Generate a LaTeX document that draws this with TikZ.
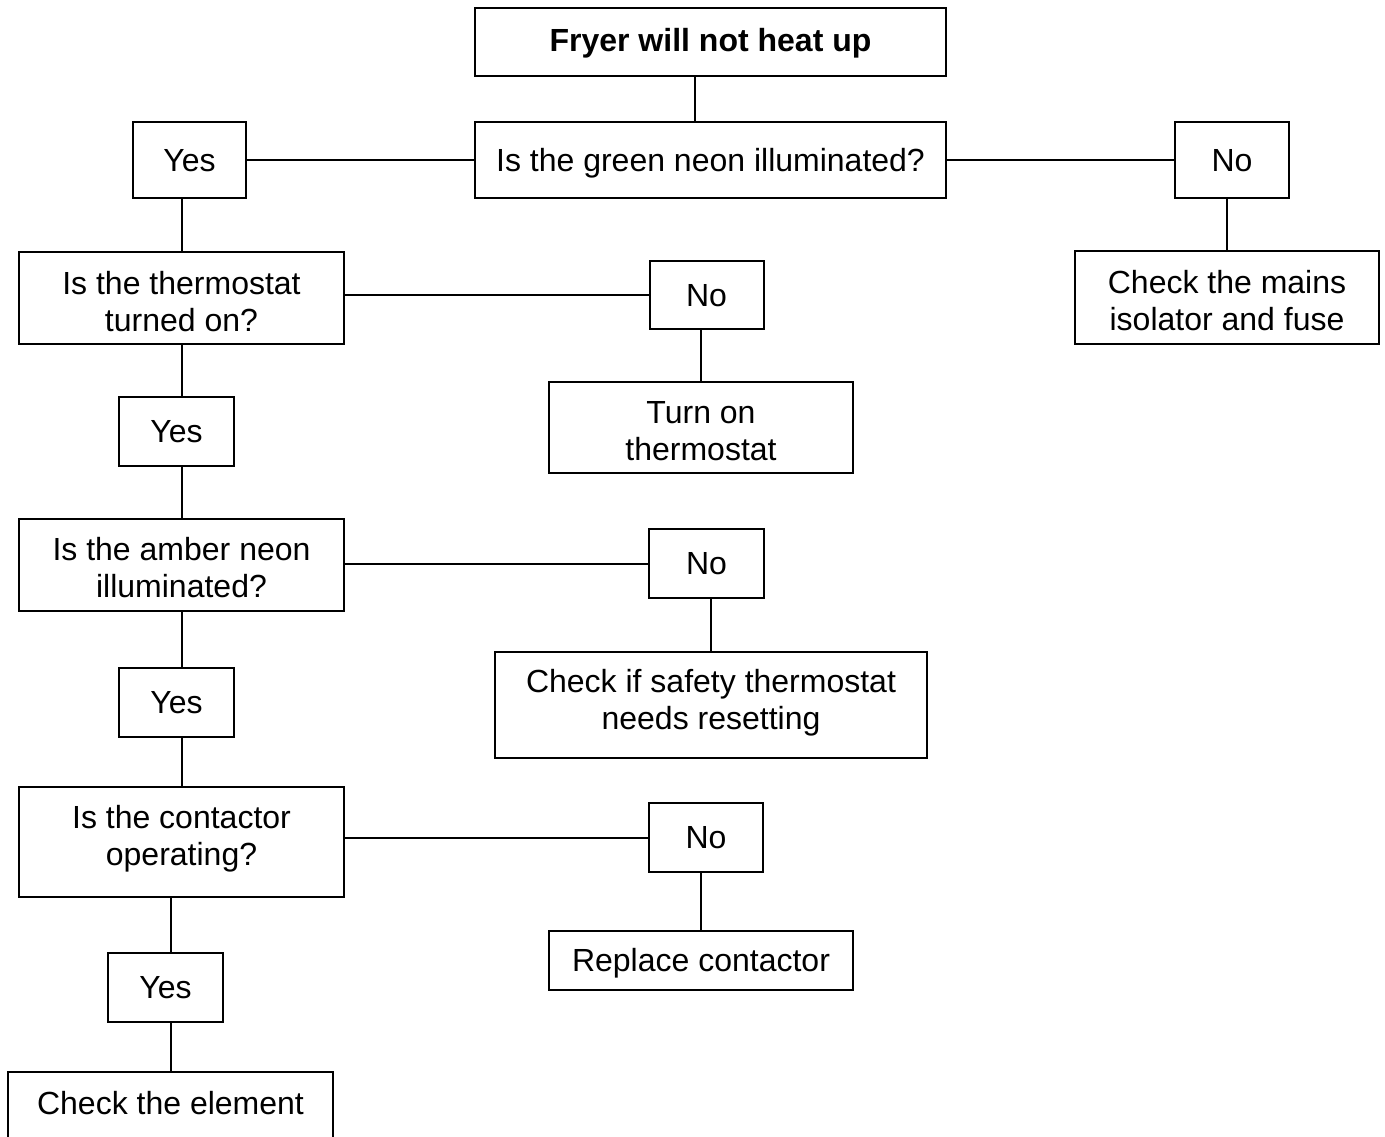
\documentclass[tikz,border=0pt]{standalone}
\usepackage{fontspec}
\setmainfont{Liberation Sans}
\newcommand\boxtext[2][-2pt]{\raisebox{#1}[\height][\depth]{\begin{tabular}{@{}c@{}}#2\end{tabular}}}
\begin{document}
\begin{tikzpicture}[x=0.5pt,y=-0.5pt,
  box/.style={draw, line width=1pt, inner sep=0pt, font=\fontsize{16}{18.5}\selectfont},
  conn/.style={line width=1pt}]
\useasboundingbox (0,0) rectangle (1385,1136);
\clip (0,0) rectangle (1385,1136);
\fill[white] (0,0) rectangle (1385,1136);
% nodes
\node[box, minimum width=235.5pt, minimum height=34pt, font=\bfseries\fontsize{16}{18.5}\selectfont] (title) at (710.5,42) {\boxtext[-1pt]{Fryer will not heat up}};
\node[box, minimum width=235.5pt, minimum height=38pt] (green) at (710.5,160) {\boxtext{Is the green neon illuminated?}};
\node[box, minimum width=56.5pt, minimum height=38pt] (yes1) at (189.5,160) {\boxtext{Yes}};
\node[box, minimum width=57pt, minimum height=38pt] (no1) at (1232,160) {\boxtext{No}};
\node[box, minimum width=152pt, minimum height=46.5pt] (mains) at (1227,297.5) {\boxtext[-3.75pt]{Check the mains\\isolator and fuse}};
\node[box, minimum width=162.5pt, minimum height=46pt] (thermo) at (181.5,298) {\boxtext[-4pt]{Is the thermostat\\turned on?}};
\node[box, minimum width=57pt, minimum height=34pt] (no2) at (706.5,295) {\boxtext{No}};
\node[box, minimum width=152pt, minimum height=45.5pt] (turnon) at (701,427.5) {\boxtext[-3.75pt]{Turn on\\thermostat}};
\node[box, minimum width=57.5pt, minimum height=34.5pt] (yes2) at (176.5,431.5) {\boxtext{Yes}};
\node[box, minimum width=162.5pt, minimum height=46pt] (amber) at (181.5,565) {\boxtext[-3.5pt]{Is the amber neon\\illuminated?}};
\node[box, minimum width=57.5pt, minimum height=34.5pt] (no3) at (706.5,563.5) {\boxtext{No}};
\node[box, minimum width=216pt, minimum height=53pt] (safety) at (711,705) {\boxtext[0.5pt]{Check if safety thermostat\\needs resetting}};
\node[box, minimum width=57.5pt, minimum height=34.5pt] (yes3) at (176.5,702.5) {\boxtext{Yes}};
\node[box, minimum width=162.5pt, minimum height=55pt] (contactor) at (181.5,842) {\boxtext[1pt]{Is the contactor\\operating?}};
\node[box, minimum width=57pt, minimum height=34.5pt] (no4) at (706,837.5) {\boxtext{No}};
\node[box, minimum width=152pt, minimum height=29.5pt] (replace) at (701,960.5) {\boxtext{Replace contactor}};
\node[box, minimum width=57.5pt, minimum height=34.5pt] (yes4) at (165.5,987.5) {\boxtext{Yes}};
\node[box, minimum width=162.5pt, minimum height=36pt] (element) at (170.5,1108) {\boxtext[0.35pt]{Check the element}};
% connectors
\coordinate (tdrop) at ([xshift=-7.75pt]title.south);
\draw[conn] (tdrop) -- (tdrop |- green.north);
\draw[conn] (yes1.east) -- (green.west);
\draw[conn] (green.east) -- (no1.west);
\draw[conn] (mains.north) -- (mains.north |- no1.south);
\draw[conn] (thermo.north) -- (thermo.north |- yes1.south);
\draw[conn] (no2.west) -- (no2.west -| thermo.east);
\draw[conn] (turnon.north) -- (turnon.north |- no2.south);
\draw[conn] (thermo.south) -- (thermo.south |- yes2.north);
\draw[conn] (amber.north) -- (amber.north |- yes2.south);
\draw[conn] (no3.west) -- (no3.west -| amber.east);
\draw[conn] (safety.north) -- (safety.north |- no3.south);
\draw[conn] (amber.south) -- (amber.south |- yes3.north);
\draw[conn] (contactor.north) -- (contactor.north |- yes3.south);
\draw[conn] (no4.west) -- (no4.west -| contactor.east);
\draw[conn] (replace.north) -- (replace.north |- no4.south);
\draw[conn] (element.north |- contactor.south) -- (element.north |- yes4.north);
\draw[conn] (element.north) -- (element.north |- yes4.south);
\end{tikzpicture}
\end{document}
